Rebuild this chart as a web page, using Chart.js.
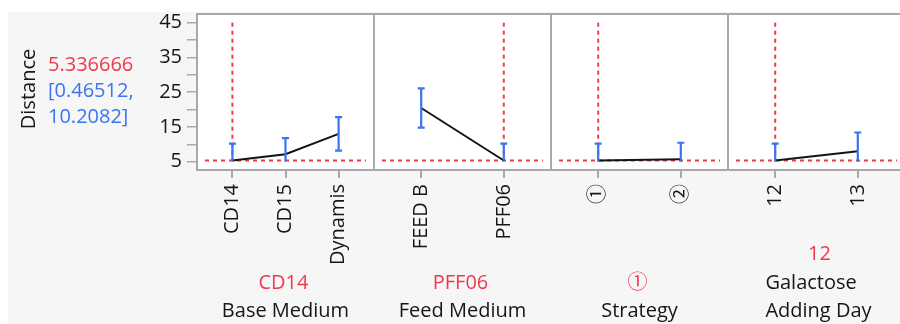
<!DOCTYPE html>
<html>
<head>
<meta charset="utf-8">
<script src="https://cdn.jsdelivr.net/npm/chart.js@4/dist/chart.umd.min.js"></script>
<style>
  html, body { margin: 0; padding: 0; background: #ffffff; }
  #wrap { position: relative; width: 900px; height: 324px; }
</style>
</head>
<body>
<div id="wrap"><canvas id="profiler" width="900" height="324"></canvas></div>
<script>
// ---- Prediction profiler data ----
const responseName = 'Distance';
const factorNames = [['Base Medium'], ['Feed Medium'], ['Strategy'], ['Galactose', 'Adding Day']];

const baseLevels = ['CD14', 'CD15', 'Dynamis'];
const basePred   = [5.336666, 7.13, 13.0];
const baseLower  = [0.46512, 2.45, 8.15];
const baseUpper  = [10.2082, 11.75, 17.8];

const feedLevels = ['FEED B', 'PFF06'];
const feedPred   = [20.45, 5.336666];
const feedLower  = [14.8, 0.46512];
const feedUpper  = [26.1, 10.2082];

const strategyLevels = ['①', '②'];
const strategyPred   = [5.336666, 5.69];
const strategyLower  = [0.46512, 0.93];
const strategyUpper  = [10.2082, 10.45];

const dayLevels = ['12', '13'];
const dayPred   = [5.336666, 8.0];
const dayLower  = [0.46512, 2.6];
const dayUpper  = [10.2082, 13.4];

// current factor settings (index into each level list) and the prediction there
const currentLevel = [0, 1, 0, 0];
const currentValue = 5.336666;
const currentLower = 0.46512;
const currentUpper = 10.2082;

const yTicks = [5, 10, 15, 20, 25, 30, 35, 40, 45];
const yLabeled = [5, 15, 25, 35, 45];
const yAxisMin = 5, yAxisMax = 45;

// ---- layout ----
const FONT = '"Open Sans", "Noto Sans CJK JP", "Noto Sans", sans-serif';
const FONT_SIZE = 20;
const RED = '#f0384b';
const BLUE = '#3a74f2';
const INK = '#161616';
const FRAME = '#a9a9a9';
const PANEL_PX = 177;          // width of one factor cell
const PLOT_LEFT = 197;
const X_MAX = (900 - PLOT_LEFT) / PANEL_PX;

const panels = [
  { levels: baseLevels,     pred: basePred,     lower: baseLower,     upper: baseUpper },
  { levels: feedLevels,     pred: feedPred,     lower: feedLower,     upper: feedUpper },
  { levels: strategyLevels, pred: strategyPred, lower: strategyLower, upper: strategyUpper },
  { levels: dayLevels,      pred: dayPred,      lower: dayLower,      upper: dayUpper }
];

// position of level j inside cell i on the shared x scale
function levelPos(i, j, n) {
  const pad = 0.8 / (n + 1);
  return i + pad + j * (1 - 2 * pad) / (n - 1);
}

const xTickValues = [];
const xTickLabels = [];
panels.forEach((p, i) => p.levels.forEach((lv, j) => {
  xTickValues.push(levelPos(i, j, p.levels.length));
  xTickLabels.push(lv);
}));

const datasets = panels.map((p, i) => ({
  data: p.pred.map((v, j) => ({ x: levelPos(i, j, p.levels.length), y: v })),
  borderColor: '#141414',
  borderWidth: 2,
  pointRadius: 0,
  tension: 0,
  fill: false
}));

// background, white cells and frames
const cellsPlugin = {
  id: 'cells',
  beforeDraw(chart) {
    const { ctx, chartArea, scales } = chart;
    ctx.save();
    ctx.fillStyle = '#ffffff';
    ctx.fillRect(0, 0, chart.width, chart.height);
    ctx.fillStyle = '#f6f6f6';
    ctx.fillRect(8, 12, chart.width - 8, chart.height - 12);
    panels.forEach((p, i) => {
      const l = scales.x.getPixelForValue(i);
      const r = scales.x.getPixelForValue(i + 1);
      ctx.fillStyle = '#ffffff';
      ctx.fillRect(l, chartArea.top, r - l, chartArea.bottom - chartArea.top);
      ctx.strokeStyle = FRAME;
      ctx.lineWidth = 2;
      ctx.strokeRect(l, chartArea.top, r - l, chartArea.bottom - chartArea.top);
    });
    ctx.restore();
  },
  beforeDatasetsDraw(chart) {
    // red dashed reference lines at the current settings
    const { ctx, scales } = chart;
    const x = scales.x, y = scales.y;
    ctx.save();
    ctx.strokeStyle = RED;
    ctx.lineWidth = 2;
    ctx.setLineDash([4, 4]);
    const yc = y.getPixelForValue(currentValue);
    panels.forEach((p, i) => {
      const l = x.getPixelForValue(i) + 8;
      const r = x.getPixelForValue(i + 1) - 8;
      ctx.beginPath();
      ctx.moveTo(l, yc);
      ctx.lineTo(r, yc);
      ctx.stroke();
      const xc = x.getPixelForValue(levelPos(i, currentLevel[i], p.levels.length));
      ctx.beginPath();
      ctx.moveTo(xc, y.getPixelForValue(yAxisMax));
      ctx.lineTo(xc, yc);
      ctx.stroke();
    });
    ctx.restore();
  },
  afterDatasetsDraw(chart) {
    // confidence bars, clipped at the axis range
    const { ctx, scales } = chart;
    const x = scales.x, y = scales.y;
    ctx.save();
    ctx.strokeStyle = BLUE;
    ctx.lineWidth = 2.2;
    const cap = 3.5;
    panels.forEach((p, i) => {
      p.levels.forEach((lv, j) => {
        const px = x.getPixelForValue(levelPos(i, j, p.levels.length));
        const lo = Math.max(p.lower[j], yAxisMin);
        const hi = Math.min(p.upper[j], yAxisMax);
        const yl = y.getPixelForValue(lo), yh = y.getPixelForValue(hi);
        ctx.beginPath();
        ctx.moveTo(px, yl);
        ctx.lineTo(px, yh);
        ctx.moveTo(px - cap, yh);
        ctx.lineTo(px + cap, yh);
        if (p.lower[j] >= yAxisMin) {
          ctx.moveTo(px - cap, yl);
          ctx.lineTo(px + cap, yl);
        }
        ctx.stroke();
      });
    });
    ctx.restore();
  },
  afterDraw(chart) {
    const { ctx, scales } = chart;
    const x = scales.x;
    ctx.save();
    ctx.font = FONT_SIZE + 'px ' + FONT;
    // response label and current prediction with its interval
    ctx.fillStyle = INK;
    ctx.textAlign = 'center';
    ctx.textBaseline = 'alphabetic';
    ctx.save();
    ctx.translate(35, 89);
    ctx.rotate(-Math.PI / 2);
    ctx.fillText(responseName, 0, 0);
    ctx.restore();
    ctx.textAlign = 'left';
    ctx.fillStyle = RED;
    ctx.fillText(String(currentValue), 48, 71);
    ctx.fillStyle = BLUE;
    ctx.fillText('[' + currentLower + ',', 48, 97);
    ctx.fillText(currentUpper + ']', 48, 123);
    // factor names with current settings
    panels.forEach((p, i) => {
      const cx = (x.getPixelForValue(i) + x.getPixelForValue(i + 1)) / 2;
      const names = factorNames[i];
      const lineH = 28.5;
      const base = 317 - (names.length - 1) * lineH;
      ctx.fillStyle = RED;
      ctx.textAlign = 'center';
      ctx.fillText(p.levels[currentLevel[i]], cx + (names.length > 1 ? 3 : -2), base - lineH);
      ctx.fillStyle = INK;
      if (names.length > 1) {
        const w = Math.max(...names.map(n => ctx.measureText(n).width));
        ctx.textAlign = 'left';
        names.forEach((n, k) => ctx.fillText(n, cx + 2 - w / 2, base + k * lineH));
      } else {
        ctx.fillText(names[0], cx, base);
      }
    });
    ctx.restore();
  }
};

new Chart(document.getElementById('profiler'), {
  type: 'line',
  data: { datasets },
  options: {
    responsive: false,
    animation: false,
    devicePixelRatio: 1,
    layout: { padding: { top: 14, left: 0, right: 0, bottom: 0 } },
    plugins: { legend: { display: false }, tooltip: { enabled: false } },
    scales: {
      x: {
        type: 'linear',
        position: 'bottom',
        min: 0,
        max: X_MAX,
        afterBuildTicks: s => { s.ticks = xTickValues.map(v => ({ value: v })); },
        afterFit: s => { s.height = 154; s.paddingLeft = 0; s.paddingRight = 0; },
        ticks: {
          autoSkip: false,
          minRotation: 90,
          maxRotation: 90,
          padding: 6,
          color: INK,
          font: { family: FONT, size: FONT_SIZE },
          callback: (v, i) => xTickLabels[i]
        },
        grid: { drawOnChartArea: false, drawTicks: true, tickLength: 8, color: FRAME, lineWidth: 2 },
        border: { display: false }
      },
      y: {
        type: 'linear',
        position: 'left',
        min: 2.6,
        max: 47.5,
        afterBuildTicks: s => { s.ticks = yTicks.map(v => ({ value: v })); },
        afterFit: s => { s.width = PLOT_LEFT; s.paddingTop = 0; s.paddingBottom = 0; },
        ticks: {
          autoSkip: false,
          padding: 5,
          color: INK,
          font: { family: FONT, size: FONT_SIZE },
          callback: v => (yLabeled.includes(v) ? String(v) : '')
        },
        grid: { drawOnChartArea: false, drawTicks: true, tickLength: 10, color: FRAME, lineWidth: 1.5 },
        border: { display: false }
      }
    }
  },
  plugins: [cellsPlugin]
});
</script>
</body>
</html>
